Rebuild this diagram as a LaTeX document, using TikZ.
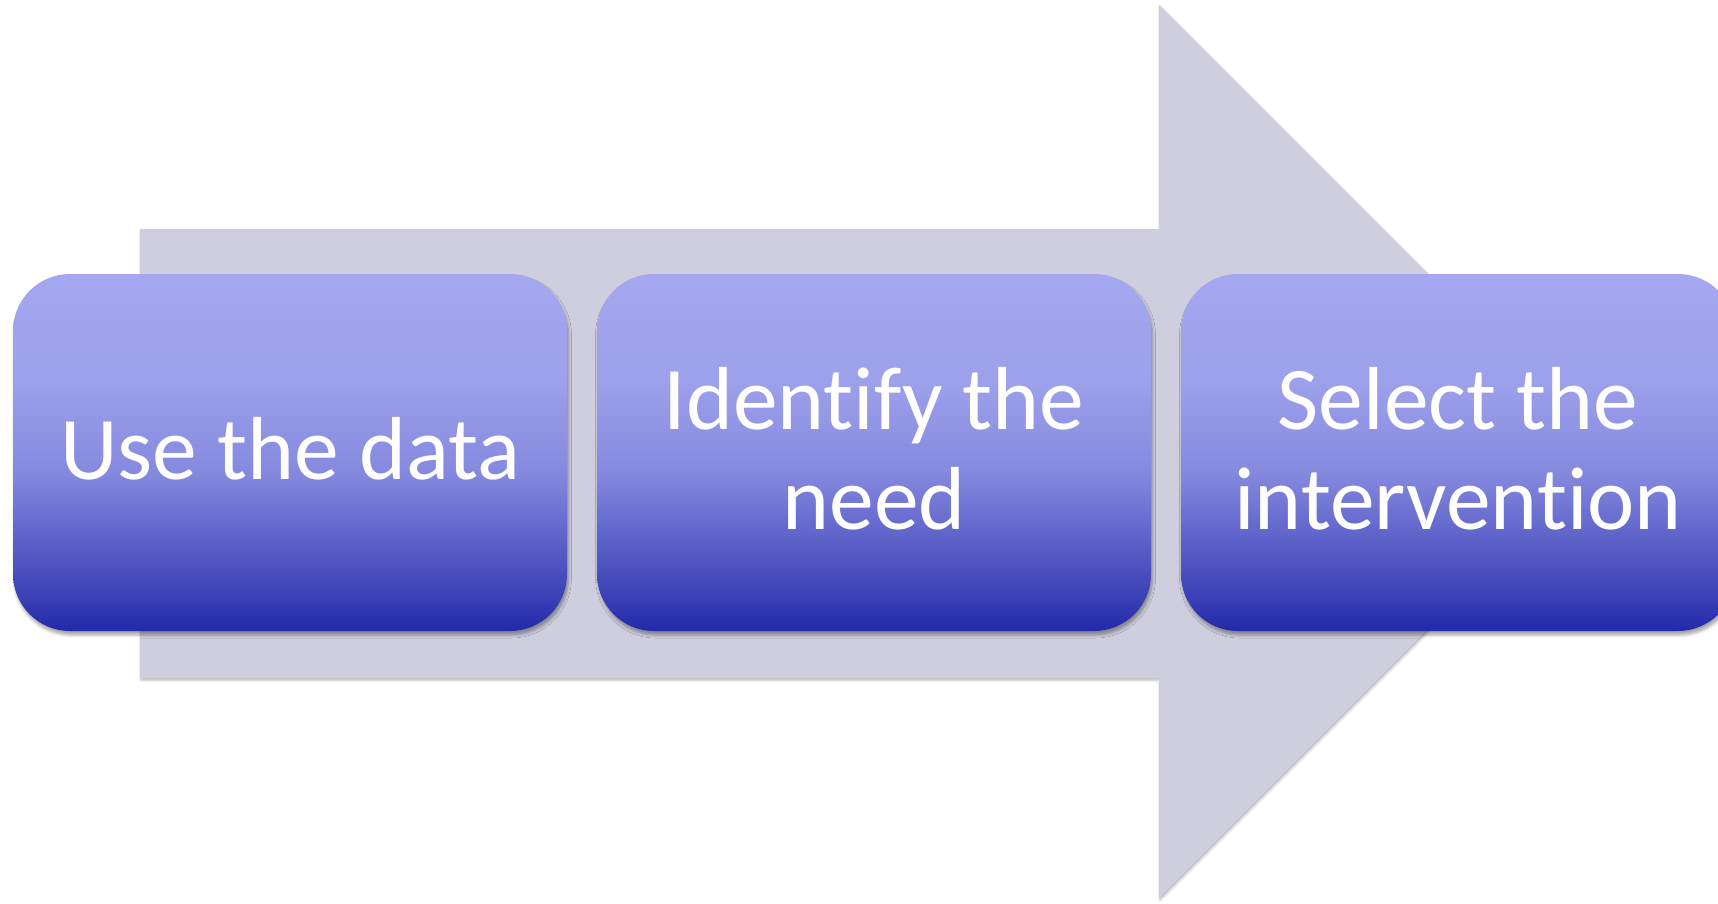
\documentclass[tikz,border=0pt]{standalone}
\usepackage{fontspec}
\setmainfont[Ligatures={NoCommon}]{Carlito}
\usetikzlibrary{shadows.blur}
\definecolor{arrowgrey}{HTML}{CECEDF}
\definecolor{bA}{HTML}{A5A8F0}
\definecolor{bB}{HTML}{9DA0EA}
\definecolor{bC}{HTML}{868ADF}
\definecolor{bD}{HTML}{5B60C8}
\definecolor{bE}{HTML}{3B41B6}
\definecolor{bF}{HTML}{2229A9}
\pgfdeclareverticalshading{boxshade}{100bp}{color(0bp)=(bF); color(25bp)=(bF); color(30bp)=(bE); color(37.5bp)=(bD); color(47.5bp)=(bC); color(60bp)=(bB); color(75bp)=(bA); color(100bp)=(bA)}
\tikzset{
  stepbox/.style={rectangle, rounded corners=57pt, minimum width=554pt, minimum height=357pt,
    shading=boxshade, draw=none, text=white, align=center,
    font=\fontsize{89.5pt}{100pt}\selectfont, inner sep=0pt, text depth=9pt,
    blur shadow={shadow xshift=1.5pt, shadow yshift=-4pt, shadow blur radius=3pt, shadow opacity=35}},
  bigarrow/.style={fill=arrowgrey, draw=none,
    blur shadow={shadow xshift=1pt, shadow yshift=-2pt, shadow blur radius=2.5pt, shadow opacity=30}}
}
\begin{document}
\begin{tikzpicture}[x=1pt,y=-1pt]
\useasboundingbox (0,0) rectangle (1718,903);
\coordinate (s1) at (140,229);
\coordinate (s2) at (1159,229);
\coordinate (h1) at (1159,5);
\coordinate (tip) at (1605.5,451.5);
\coordinate (h2) at (1159,898);
\coordinate (s3) at (1159,678);
\coordinate (s4) at (140,678);
\path[bigarrow] (s1) -- (s2) -- (h1) -- (tip) -- (h2) -- (s3) -- (s4) -- cycle;
\node[stepbox] (use) at (290,452.5) {Use the data};
\node[stepbox] (identify) at (874,452.5) {Identify the\\need};
\node[stepbox] (select) at (1458,452.5) {Select the\\intervention};
\end{tikzpicture}
\end{document}
